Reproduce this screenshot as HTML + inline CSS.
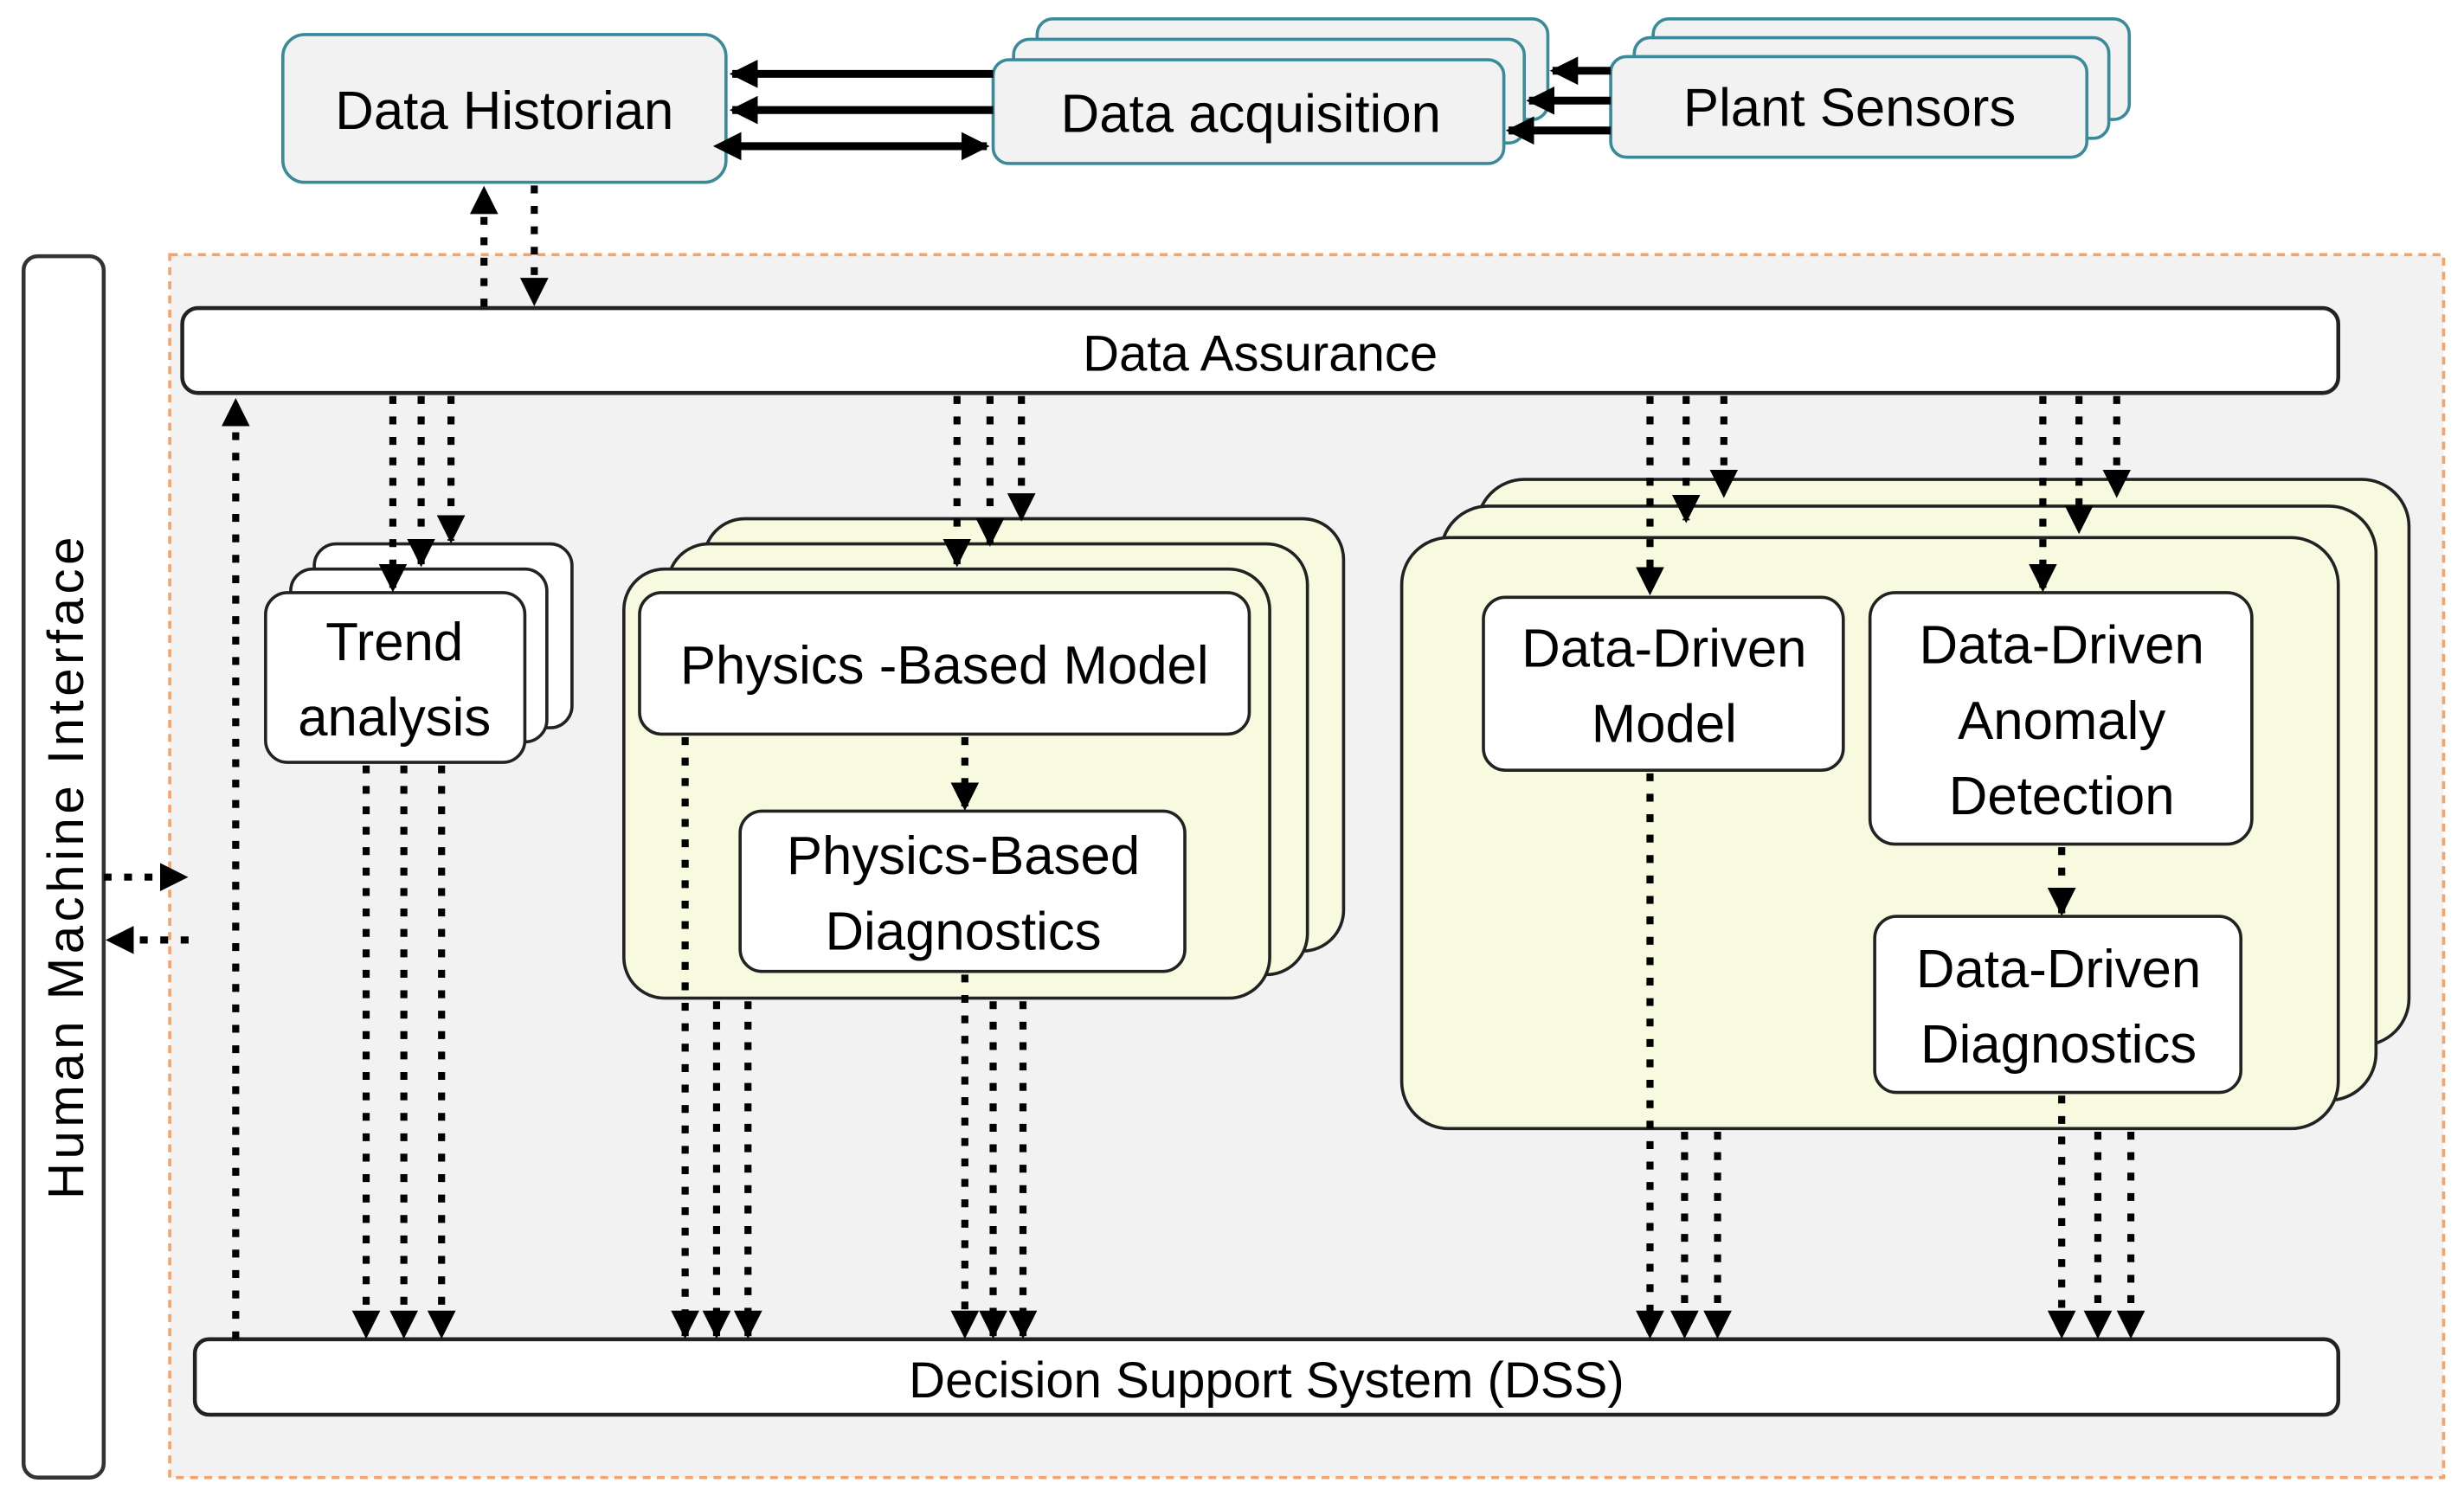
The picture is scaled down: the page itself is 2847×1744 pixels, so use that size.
<!DOCTYPE html>
<html><head><meta charset="utf-8"><style>
html,body{margin:0;padding:0;background:#fff;}
svg{display:block;}
text{font-family:"Liberation Sans",sans-serif;fill:#000;}
</style></head><body>
<svg width="2847" height="1744" viewBox="0 0 1568 960" preserveAspectRatio="none" xmlns="http://www.w3.org/2000/svg">
<defs>
<marker id="ah" viewBox="0 0 10 10" refX="9" refY="5" markerWidth="4" markerHeight="4" orient="auto" markerUnits="strokeWidth"><path d="M0,0 L10,5 L0,10 z" fill="#000"/></marker>
<marker id="th" viewBox="0 0 10 10" refX="9" refY="5" markerWidth="3.6" markerHeight="3.6" orient="auto" markerUnits="strokeWidth"><path d="M0,0 L10,5 L0,10 z" fill="#000"/></marker>
<marker id="ts" viewBox="0 0 10 10" refX="1" refY="5" markerWidth="3.6" markerHeight="3.6" orient="auto-start-reverse" markerUnits="strokeWidth"><path d="M0,0 L10,5 L0,10 z" fill="#000"/></marker>
</defs>

<rect x="108" y="162" width="1447" height="778" fill="#f2f2f2" stroke="#f4a46a" stroke-width="2" stroke-dasharray="5 4"/>
<rect x="15" y="163" width="51" height="777" rx="9" fill="#fff" stroke="#333" stroke-width="2.5"/>
<text x="0" y="0" font-size="32" text-anchor="middle" transform="translate(53,551) rotate(-90)" letter-spacing="2.5">Human Machine Interface</text>

<g stroke="#3a8a9a" stroke-width="2" fill="#f2f2f2">
<rect x="180" y="22" width="282" height="94" rx="14"/>
<rect x="660" y="12" width="325" height="64" rx="10"/>
<rect x="645" y="25" width="325" height="66" rx="10"/>
<rect x="632" y="38" width="325" height="66" rx="10"/>
<rect x="1052" y="12" width="303" height="64" rx="10"/>
<rect x="1040" y="24" width="302" height="64" rx="10"/>
<rect x="1025" y="36" width="303" height="64" rx="10"/>
</g>
<text x="321" y="82" font-size="34" text-anchor="middle">Data Historian</text>
<text x="796" y="84" font-size="34" text-anchor="middle">Data acquisition</text>
<text x="1177" y="80" font-size="34" text-anchor="middle">Plant Sensors</text>

<g stroke="#000" stroke-width="5" fill="none">
<line x1="632" y1="47" x2="466" y2="47" marker-end="url(#th)"/>
<line x1="632" y1="70" x2="466" y2="70" marker-end="url(#th)"/>
<line x1="470" y1="93" x2="628" y2="93" marker-end="url(#th)" marker-start="url(#ts)"/>
<line x1="1025" y1="45" x2="988" y2="45" marker-end="url(#th)"/>
<line x1="1025" y1="64" x2="973" y2="64" marker-end="url(#th)"/>
<line x1="1025" y1="83" x2="960" y2="83" marker-end="url(#th)"/>
</g>

<rect x="116" y="196" width="1372" height="54" rx="10" fill="#fff" stroke="#222" stroke-width="2.5"/>
<text x="802" y="236" font-size="32" text-anchor="middle">Data Assurance</text>
<rect x="124" y="852" width="1364" height="48" rx="9" fill="#fff" stroke="#222" stroke-width="2.5"/>
<text x="806" y="889" font-size="32" text-anchor="middle">Decision Support System (DSS)</text>

<g fill="#fff" stroke="#222" stroke-width="2">
<rect x="200" y="346" width="164" height="117" rx="14"/>
<rect x="185" y="362" width="163" height="110" rx="14"/>
<rect x="169" y="377" width="165" height="108" rx="14"/>
</g>
<text x="251" y="420" font-size="34" text-anchor="middle">Trend</text>
<text x="251" y="468" font-size="34" text-anchor="middle">analysis</text>

<g fill="#f8fae0" stroke="#222" stroke-width="2">
<rect x="448" y="330" width="407" height="275" rx="26"/>
<rect x="425" y="346" width="407" height="274" rx="26"/>
<rect x="397" y="362" width="411" height="273" rx="26"/>
</g>
<g fill="#fff" stroke="#222" stroke-width="2">
<rect x="407" y="377" width="388" height="90" rx="14"/>
<rect x="471" y="516" width="283" height="102" rx="14"/>
</g>
<text x="601" y="435" font-size="34" text-anchor="middle">Physics -Based Model</text>
<text x="613" y="556" font-size="34" text-anchor="middle">Physics-Based</text>
<text x="613" y="604" font-size="34" text-anchor="middle">Diagnostics</text>

<g fill="#f8fae0" stroke="#222" stroke-width="2">
<rect x="940" y="305" width="593" height="360" rx="30"/>
<rect x="917" y="322" width="595" height="378" rx="30"/>
<rect x="892" y="342" width="596" height="376" rx="30"/>
</g>
<g fill="#fff" stroke="#222" stroke-width="2">
<rect x="944" y="380" width="229" height="110" rx="14"/>
<rect x="1190" y="377" width="243" height="160" rx="16"/>
<rect x="1193" y="583" width="233" height="112" rx="14"/>
</g>
<text x="1059" y="424" font-size="34" text-anchor="middle">Data-Driven</text>
<text x="1059" y="472" font-size="34" text-anchor="middle">Model</text>
<text x="1312" y="422" font-size="34" text-anchor="middle">Data-Driven</text>
<text x="1312" y="470" font-size="34" text-anchor="middle">Anomaly</text>
<text x="1312" y="518" font-size="34" text-anchor="middle">Detection</text>
<text x="1310" y="628" font-size="34" text-anchor="middle">Data-Driven</text>
<text x="1310" y="676" font-size="34" text-anchor="middle">Diagnostics</text>

<g stroke="#000" stroke-width="4.5" stroke-dasharray="5 8" fill="none" marker-end="url(#ah)">
<line x1="308" y1="195" x2="308" y2="120"/>
<line x1="340" y1="118" x2="340" y2="193"/>
<line x1="150" y1="852" x2="150" y2="255"/>
<line x1="66" y1="558" x2="118" y2="558"/>
<line x1="120" y1="598" x2="69" y2="598"/>

<line x1="250" y1="252" x2="250" y2="375"/>
<line x1="268" y1="252" x2="268" y2="359"/>
<line x1="287" y1="252" x2="287" y2="344"/>
<line x1="233" y1="487" x2="233" y2="850"/>
<line x1="257" y1="487" x2="257" y2="850"/>
<line x1="281" y1="487" x2="281" y2="850"/>

<line x1="609" y1="252" x2="609" y2="359"/>
<line x1="630" y1="252" x2="630" y2="346"/>
<line x1="650" y1="252" x2="650" y2="330"/>
<line x1="614" y1="469" x2="614" y2="514"/>
<line x1="436" y1="469" x2="436" y2="850"/>
<line x1="456" y1="637" x2="456" y2="850"/>
<line x1="476" y1="637" x2="476" y2="850"/>
<line x1="614" y1="620" x2="614" y2="850"/>
<line x1="632" y1="637" x2="632" y2="850"/>
<line x1="651" y1="637" x2="651" y2="850"/>

<line x1="1050" y1="252" x2="1050" y2="377"/>
<line x1="1073" y1="252" x2="1073" y2="331"/>
<line x1="1097" y1="252" x2="1097" y2="315"/>
<line x1="1300" y1="252" x2="1300" y2="375"/>
<line x1="1323" y1="252" x2="1323" y2="338"/>
<line x1="1347" y1="252" x2="1347" y2="315"/>
<line x1="1312" y1="539" x2="1312" y2="581"/>
<line x1="1050" y1="492" x2="1050" y2="850"/>
<line x1="1072" y1="720" x2="1072" y2="850"/>
<line x1="1093" y1="720" x2="1093" y2="850"/>
<line x1="1312" y1="697" x2="1312" y2="850"/>
<line x1="1335" y1="720" x2="1335" y2="850"/>
<line x1="1356" y1="720" x2="1356" y2="850"/>
</g>
</svg>
</body></html>
